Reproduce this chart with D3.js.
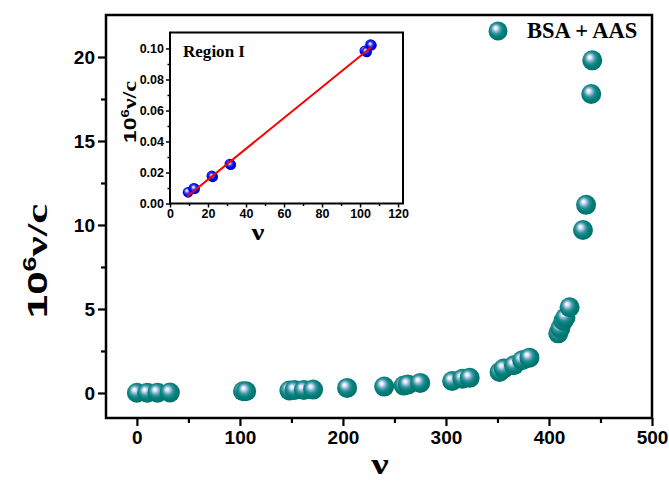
<!DOCTYPE html>
<html>
<head>
<meta charset="utf-8">
<script src="https://cdn.jsdelivr.net/npm/d3@7"></script>
<style>
  html, body { margin: 0; padding: 0; background: #ffffff; }
  svg { display: block; }
</style>
</head>
<body>
<svg id="chart" width="669" height="482"></svg>
<script>
// ---------- data ----------
const nuMain = [0, 10, 20, 32, 103, 106, 148, 153, 162, 171, 204, 240, 259, 263, 275, 306, 316, 323, 352, 356, 366, 374, 381, 409, 411, 414, 416, 420, 433, 436, 441, 442];
const yMain  = [0.01, 0.01, 0.02, 0.03, 0.10, 0.10, 0.15, 0.17, 0.18, 0.20, 0.30, 0.38, 0.44, 0.50, 0.60, 0.71, 0.85, 0.90, 1.25, 1.45, 1.65, 1.95, 2.10, 3.55, 3.85, 4.30, 4.50, 5.10, 9.70, 11.20, 17.80, 19.80];

const nuInset = [9.5, 12.5, 13, 22, 22.5, 31.5, 32, 102.5, 103.5, 105.5, 106];
const yInset  = [0.0072, 0.0098, 0.0095, 0.0178, 0.0172, 0.0255, 0.0250, 0.0985, 0.0978, 0.1025, 0.1020];

const fitX = [9, 106];
const fitY = [0.0045, 0.1010];

const mainXTicks = [0, 100, 200, 300, 400, 500];
const mainXMinor = [50, 150, 250, 350, 450];
const mainYTicks = [0, 5, 10, 15, 20];
const mainYMinor = [2.5, 7.5, 12.5, 17.5];
const insetXTicks = [0, 20, 40, 60, 80, 100, 120];
const insetXMinor = [10, 30, 50, 70, 90, 110];
const insetYTicks = [0.00, 0.02, 0.04, 0.06, 0.08, 0.10];
const insetYMinor = [0.01, 0.03, 0.05, 0.07, 0.09];

const legendLabel = "BSA + AAS";

// ---------- setup ----------
const svg = d3.select("#chart");
const sans = "'Liberation Sans', Arial, sans-serif";
const serif = "'Liberation Serif', 'Times New Roman', serif";

const defs = svg.append("defs");
function sphereGrad(id, stops) {
  const g = defs.append("radialGradient").attr("id", id)
    .attr("cx", "0.45").attr("cy", "0.45").attr("r", "0.6")
    .attr("fx", "0.36").attr("fy", "0.33");
  stops.forEach(s => g.append("stop").attr("offset", s[0]).attr("stop-color", s[1]));
}
sphereGrad("teal", [[0, "#ffffff"], [0.13, "#e2eefb"], [0.28, "#93b9d6"], [0.46, "#2d9197"], [0.66, "#00807a"], [1, "#006b65"]]);
sphereGrad("blue", [[0, "#ffffff"], [0.14, "#c8d2ff"], [0.34, "#4455ff"], [0.6, "#0000f0"], [1, "#0000b8"]]);

// ---------- main chart ----------
const M = { left: 106, right: 652, top: 15, bottom: 418 };
const x = d3.scaleLinear().domain([-30, 500]).range([M.left, M.right]);
const y = d3.scaleLinear().domain([-1.49, 22.5]).range([M.bottom, M.top]);

// frame
svg.append("rect").attr("x", M.left).attr("y", M.top)
  .attr("width", M.right - M.left).attr("height", M.bottom - M.top)
  .attr("fill", "none").attr("stroke", "#000").attr("stroke-width", 2.5);

const xAxis = svg.append("g").attr("transform", `translate(0,${M.bottom})`)
  .call(d3.axisBottom(x).tickValues(mainXTicks).tickSize(8).tickPadding(5).tickFormat(d3.format("d")));
const xMinor = svg.append("g").attr("transform", `translate(0,${M.bottom})`)
  .call(d3.axisBottom(x).tickValues(mainXMinor).tickSize(5).tickFormat(""));
const yAxis = svg.append("g").attr("transform", `translate(${M.left},0)`)
  .call(d3.axisLeft(y).tickValues(mainYTicks).tickSize(8).tickPadding(3).tickFormat(d3.format("d")));
const yMinor = svg.append("g").attr("transform", `translate(${M.left},0)`)
  .call(d3.axisLeft(y).tickValues(mainYMinor).tickSize(5).tickFormat(""));
[xAxis, xMinor, yAxis, yMinor].forEach(g => {
  g.select(".domain").remove();
  g.selectAll("line").attr("stroke", "#000").attr("stroke-width", 2.2);
  g.selectAll("text").attr("font-family", sans).attr("font-weight", "bold")
    .attr("font-size", 19).attr("fill", "#000");
});

// main points
svg.append("g").selectAll("circle")
  .data(nuMain.map((v, i) => [v, yMain[i]]))
  .join("circle")
  .attr("cx", d => x(d[0])).attr("cy", d => y(d[1])).attr("r", 10)
  .attr("fill", "url(#teal)");

// axis titles
const yt = svg.append("text")
  .attr("transform", "translate(47,261) rotate(-90) scale(1.5,1)")
  .attr("text-anchor", "middle").attr("fill", "#000").attr("font-weight", "bold");
yt.append("tspan").attr("font-family", sans).attr("font-size", 28).text("10");
yt.append("tspan").attr("font-family", sans).attr("font-size", 18).attr("dy", -11).text("6");
yt.append("tspan").attr("font-family", serif).attr("font-size", 30).attr("dy", 11).text("ν/c");

svg.append("text").attr("transform", "translate(380,474) scale(1.3,1)")
  .attr("text-anchor", "middle").attr("font-family", serif).attr("font-weight", "bold")
  .attr("font-size", 30).attr("fill", "#000").text("ν");

// legend
svg.append("circle").attr("cx", 498).attr("cy", 31).attr("r", 9.5).attr("fill", "url(#teal)");
svg.append("text").attr("x", 527).attr("y", 38).attr("font-family", serif).attr("font-weight", "bold")
  .attr("font-size", 22.5).attr("fill", "#000").text(legendLabel);

// ---------- inset ----------
const I = { left: 170, right: 403, top: 32.5, bottom: 203.5 };
const xi = d3.scaleLinear().domain([0, 122.6]).range([I.left, I.right]);
const yi = d3.scaleLinear().domain([0, 0.1103]).range([I.bottom, I.top]);

svg.append("rect").attr("x", I.left).attr("y", I.top)
  .attr("width", I.right - I.left).attr("height", I.bottom - I.top)
  .attr("fill", "none").attr("stroke", "#000").attr("stroke-width", 2);

const xiA = svg.append("g").attr("transform", `translate(0,${I.bottom})`)
  .call(d3.axisBottom(xi).tickValues(insetXTicks).tickSize(4).tickPadding(2).tickFormat(d3.format("d")));
const xiM = svg.append("g").attr("transform", `translate(0,${I.bottom})`)
  .call(d3.axisBottom(xi).tickValues(insetXMinor).tickSize(2.5).tickFormat(""));
const yiA = svg.append("g").attr("transform", `translate(${I.left},0)`)
  .call(d3.axisLeft(yi).tickValues(insetYTicks).tickSize(4).tickPadding(2).tickFormat(d3.format(".2f")));
const yiM = svg.append("g").attr("transform", `translate(${I.left},0)`)
  .call(d3.axisLeft(yi).tickValues(insetYMinor).tickSize(2.5).tickFormat(""));
[xiA, xiM, yiA, yiM].forEach(g => {
  g.select(".domain").remove();
  g.selectAll("line").attr("stroke", "#000").attr("stroke-width", 1.5);
  g.selectAll("text").attr("font-family", sans).attr("font-weight", "bold")
    .attr("font-size", 12.5).attr("fill", "#000");
});

// inset points
svg.append("g").selectAll("circle")
  .data(nuInset.map((v, i) => [v, yInset[i]]))
  .join("circle")
  .attr("cx", d => xi(d[0])).attr("cy", d => yi(d[1])).attr("r", 5.3)
  .attr("fill", "url(#blue)");

// fit line
svg.append("path")
  .datum(fitX.map((v, i) => [v, fitY[i]]))
  .attr("d", d3.line().x(d => xi(d[0])).y(d => yi(d[1])))
  .attr("stroke", "#ff0000").attr("stroke-width", 2).attr("fill", "none");

// inset titles
svg.append("text").attr("x", 183).attr("y", 57).attr("font-family", serif).attr("font-weight", "bold")
  .attr("font-size", 16).attr("textLength", 62).attr("lengthAdjust", "spacingAndGlyphs")
  .attr("fill", "#000").text("Region I");

const yti = svg.append("text")
  .attr("transform", "translate(136,112) rotate(-90) scale(1.35,1)")
  .attr("text-anchor", "middle").attr("fill", "#000").attr("font-weight", "bold");
yti.append("tspan").attr("font-family", sans).attr("font-size", 17).text("10");
yti.append("tspan").attr("font-family", sans).attr("font-size", 11).attr("dy", -7).text("6");
yti.append("tspan").attr("font-family", serif).attr("font-size", 18).attr("dy", 7).text("ν/c");

svg.append("text").attr("transform", "translate(258,240) scale(1.2,1)")
  .attr("text-anchor", "middle").attr("font-family", serif).attr("font-weight", "bold")
  .attr("font-size", 24).attr("fill", "#000").text("ν");
</script>
</body>
</html>
